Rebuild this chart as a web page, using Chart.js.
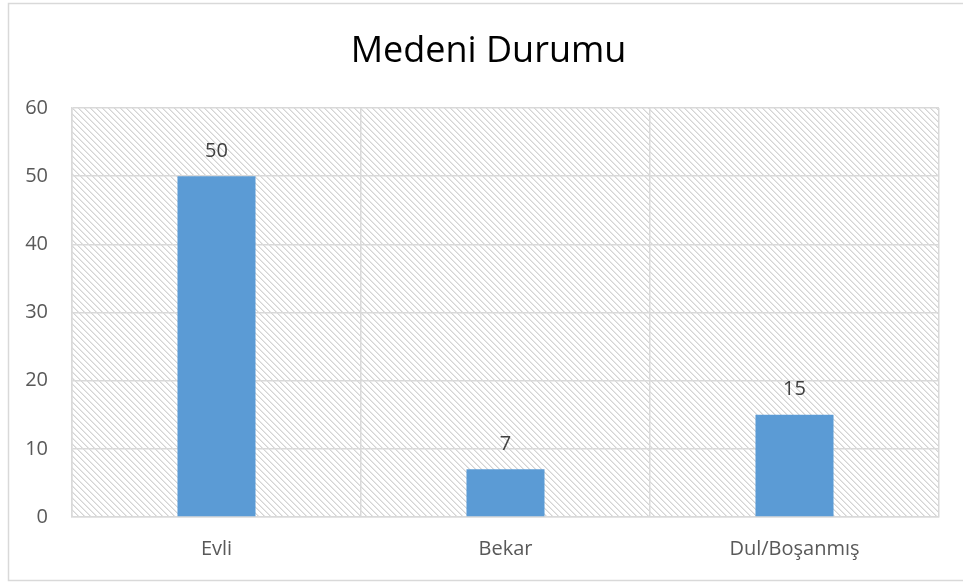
<!DOCTYPE html>
<html>
<head>
<meta charset="utf-8">
<script src="https://cdn.jsdelivr.net/npm/chart.js@4/dist/chart.umd.min.js"></script>
<style>
html,body{margin:0;padding:0;background:#fff;}
#wrap{position:relative;width:963px;height:583px;}
</style>
</head>
<body>
<div id="wrap"><canvas id="c" width="963" height="583"></canvas></div>
<script>
const categories = ["Evli", "Bekar", "Dul/Boşanmış"];
const values = [50, 7, 15];
const yTicks = [0, 10, 20, 30, 40, 50, 60];
const chartTitle = "Medeni Durumu";

const FONT = "'Open Sans', sans-serif";

function makeHatch() {
  const s = 6;
  const pc = document.createElement('canvas');
  pc.width = s; pc.height = s;
  const g = pc.getContext('2d');
  g.fillStyle = '#ffffff';
  g.fillRect(0, 0, s, s);
  g.fillStyle = '#d4d4d4';
  for (let i = 0; i < s; i++) {
    g.fillRect(i, i, 1, 1);
  }
  g.fillStyle = '#e8e8e8';
  for (let i = 0; i < s; i++) {
    g.fillRect((i + 1) % s, i, 1, 1);
  }
  return pc;
}

const bgPlugin = {
  id: 'bg',
  afterLayout(chart) {
    if (chart.titleBlock) { chart.titleBlock.left = 38; }
  },
  beforeDraw(chart) {
    const ctx = chart.ctx;
    const a = chart.chartArea;
    ctx.save();
    ctx.fillStyle = '#fff';
    ctx.fillRect(0, 0, chart.width, chart.height);
    ctx.strokeStyle = '#d9d9d9';
    ctx.lineWidth = 1.5;
    ctx.strokeRect(8.5, 3.5, chart.width + 20, chart.height - 6);
    ctx.fillStyle = ctx.createPattern(makeHatch(), 'repeat');
    ctx.fillRect(a.left, a.top, a.right - a.left, a.bottom - a.top);
    ctx.restore();
  }
};

const labelPlugin = {
  id: 'vlabels',
  afterDatasetsDraw(chart) {
    const ctx = chart.ctx;
    const meta = chart.getDatasetMeta(0);
    ctx.save();
    ctx.fillStyle = '#404040';
    ctx.font = "20px " + FONT;
    ctx.textAlign = 'center';
    ctx.textBaseline = 'middle';
    meta.data.forEach((bar, i) => {
      ctx.fillText(String(values[i]), bar.x, bar.y - 25);
    });
    ctx.restore();
  }
};

new Chart(document.getElementById('c'), {
  type: 'bar',
  data: {
    labels: categories,
    datasets: [{
      data: values,
      backgroundColor: '#5b9bd5',
      borderWidth: 0,
      categoryPercentage: 1,
      barPercentage: 0.27
    }]
  },
  options: {
    responsive: false,
    animation: false,
    layout: { padding: { left: 0, right: 24, top: 0, bottom: 0 } },
    plugins: {
      legend: { display: false },
      tooltip: { enabled: false },
      title: {
        display: true,
        text: chartTitle,
        color: '#000',
        font: { family: FONT, size: 36, weight: 'normal' },
        padding: { top: 30, bottom: 34.8 }
      }
    },
    scales: {
      x: {
        grid: { color: '#d9d9d9', lineWidth: 1.5, drawTicks: false, offset: true },
        border: { color: '#d9d9d9', width: 1.5 },
        ticks: { color: '#595959', font: { family: FONT, size: 20 }, padding: 20 },
        afterFit(s) { s.height = 66; }
      },
      y: {
        min: 0, max: 60,
        afterBuildTicks(s) { s.ticks = yTicks.map(v => ({ value: v })); },
        grid: { color: '#d9d9d9', lineWidth: 1.5, drawTicks: false },
        border: { color: '#d9d9d9', width: 1.5 },
        ticks: { color: '#595959', font: { family: FONT, size: 20 }, padding: 24, stepSize: 10 },
        afterFit(s) { s.width = 72; }
      }
    }
  },
  plugins: [bgPlugin, labelPlugin]
});
</script>
</body>
</html>
